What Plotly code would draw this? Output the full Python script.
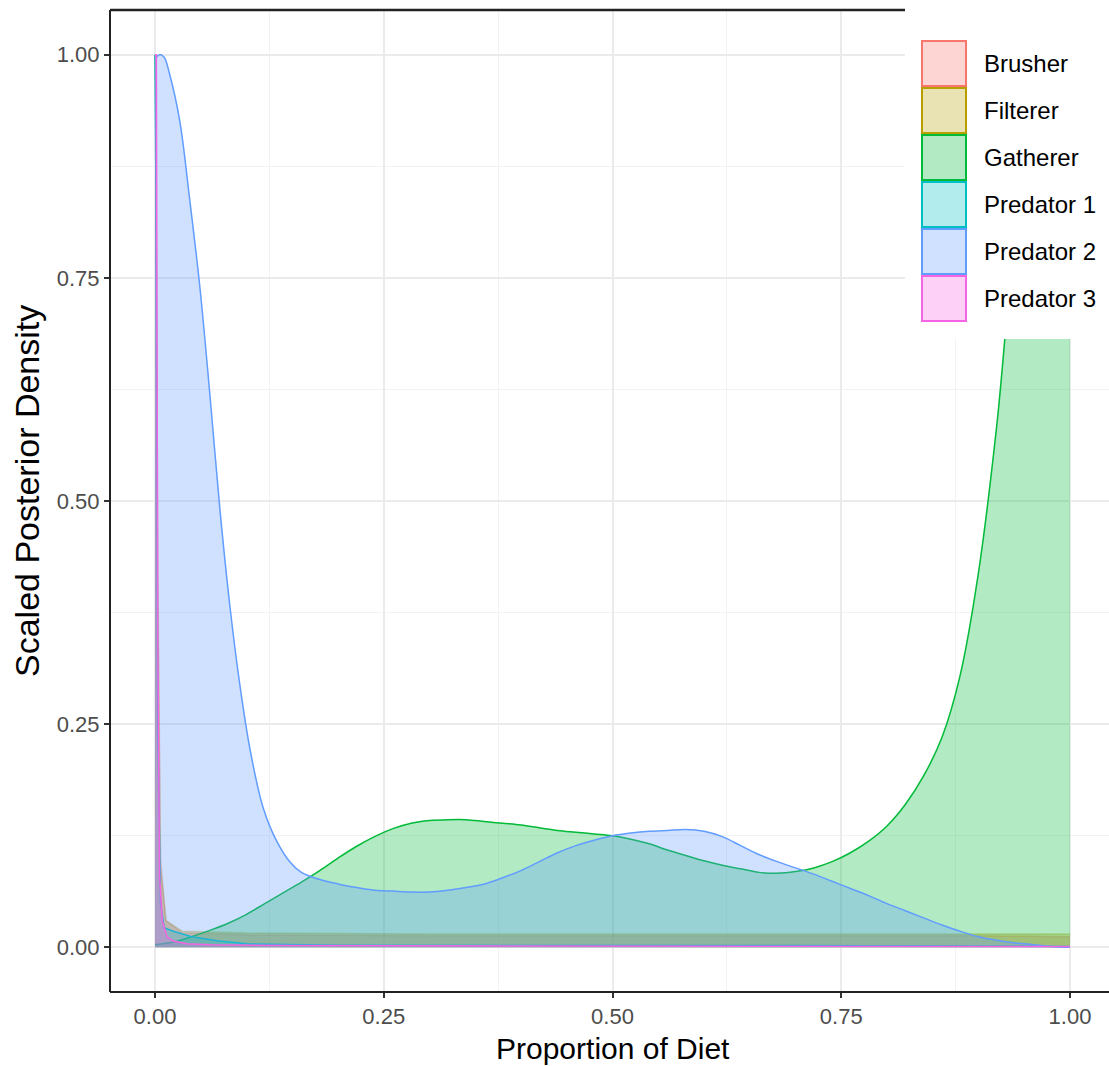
import plotly.graph_objects as go

# ---------------- data ----------------
categories = ["Brusher", "Filterer", "Gatherer", "Predator 1", "Predator 2", "Predator 3"]
colors = ["#F8766D", "#B79F00", "#00BA38", "#00BFC4", "#619CFF", "#F564E3"]

brusher_x = [0, 0.001, 0.003, 0.006, 0.012, 0.03, 0.1, 0.3, 0.5, 0.7, 0.9, 1.0]
brusher_y = [1.0, 0.95, 0.45, 0.10, 0.03, 0.016, 0.014, 0.013, 0.013, 0.013, 0.013, 0.012]

filterer_x = [0, 0.001, 0.003, 0.006, 0.012, 0.03, 0.1, 0.3, 0.5, 0.7, 0.9, 1.0]
filterer_y = [1.0, 0.90, 0.40, 0.09, 0.03, 0.018, 0.016, 0.015, 0.015, 0.015, 0.015, 0.015]

gatherer_x = [0.00, 0.02, 0.04, 0.06, 0.08, 0.10, 0.12, 0.14, 0.16, 0.18, 0.20, 0.22, 0.24,
              0.26, 0.28, 0.30, 0.32, 0.34, 0.36, 0.38, 0.40, 0.42, 0.44, 0.46, 0.48, 0.50,
              0.52, 0.54, 0.56, 0.58, 0.60, 0.62, 0.64, 0.66, 0.68, 0.70, 0.72, 0.74, 0.76,
              0.78, 0.80, 0.82, 0.84, 0.86, 0.88, 0.90, 0.92, 0.94, 0.96, 0.98, 1.00]
gatherer_y = [0.003, 0.006, 0.012, 0.019, 0.027, 0.037, 0.049, 0.061, 0.073, 0.086, 0.100,
              0.113, 0.124, 0.133, 0.139, 0.142, 0.143, 0.143, 0.141, 0.139, 0.137, 0.134,
              0.131, 0.129, 0.127, 0.125, 0.121, 0.116, 0.109, 0.103, 0.097, 0.092, 0.088,
              0.084, 0.083, 0.085, 0.089, 0.096, 0.106, 0.119, 0.136, 0.160, 0.192, 0.235,
              0.305, 0.42, 0.585, 0.80, 0.93, 0.99, 1.0]

pred1_x = [0, 0.001, 0.003, 0.006, 0.01, 0.02, 0.04, 0.07, 0.1, 0.2, 0.4, 0.7, 1.0]
pred1_y = [1.0, 0.85, 0.25, 0.05, 0.022, 0.018, 0.012, 0.007, 0.004, 0.0025, 0.002, 0.002, 0.001]

pred2_x = [0.0, 0.005, 0.01, 0.016, 0.027, 0.038, 0.049, 0.060, 0.071, 0.082, 0.093, 0.104,
           0.118, 0.133, 0.148, 0.16, 0.18, 0.20, 0.22, 0.24, 0.26, 0.28, 0.30, 0.32, 0.34,
           0.36, 0.38, 0.40, 0.42, 0.44, 0.46, 0.48, 0.50, 0.52, 0.54, 0.56, 0.58, 0.60,
           0.62, 0.64, 0.66, 0.68, 0.70, 0.72, 0.74, 0.76, 0.78, 0.80, 0.82, 0.84, 0.86,
           0.88, 0.90, 0.92, 0.94, 0.96, 0.98, 1.0]
pred2_y = [0.995, 1.0, 0.997, 0.978, 0.926, 0.837, 0.74, 0.619, 0.49, 0.381, 0.292, 0.221,
           0.157, 0.119, 0.095, 0.084, 0.076, 0.071, 0.067, 0.064, 0.063, 0.062, 0.062,
           0.064, 0.067, 0.071, 0.078, 0.086, 0.096, 0.106, 0.114, 0.120, 0.125, 0.128,
           0.130, 0.131, 0.132, 0.130, 0.124, 0.114, 0.104, 0.096, 0.089, 0.082, 0.074,
           0.066, 0.058, 0.049, 0.041, 0.033, 0.025, 0.018, 0.012, 0.008, 0.005, 0.003,
           0.001, 0.0]

pred3_x = [0, 0.0015, 0.003, 0.005, 0.008, 0.013, 0.02, 0.035, 0.06, 0.15, 0.4, 0.7, 1.0]
pred3_y = [1.0, 1.0, 0.35, 0.08, 0.03, 0.012, 0.007, 0.004, 0.003, 0.002, 0.0015, 0.0015, 0.001]

xs = [brusher_x, filterer_x, gatherer_x, pred1_x, pred2_x, pred3_x]
ys = [brusher_y, filterer_y, gatherer_y, pred1_y, pred2_y, pred3_y]
smooth = [False, False, True, False, True, False]
line_alpha = [0.35, 0.35, 1.0, 1.0, 1.0, 1.0]  # early lines sit under later fills

x_ticks = [0, 0.25, 0.5, 0.75, 1.0]
y_ticks = [0, 0.25, 0.5, 0.75, 1.0]

# ---------------- helpers ----------------
def rgba(hex_color, a):
    h = hex_color.lstrip("#")
    r, g, b = int(h[0:2], 16), int(h[2:4], 16), int(h[4:6], 16)
    return f"rgba({r},{g},{b},{a})"

W, H = 1109, 1066
L, T, B = 110, 10, 74
PW = W - L
PH = H - T - B

def px(xp):  # pixel x -> paper
    return (xp - L) / PW

def py(yp):  # pixel y -> paper
    return (H - B - yp) / PH

fig = go.Figure()
for name, col, x, y, sm, la in zip(categories, colors, xs, ys, smooth, line_alpha):
    fig.add_trace(go.Scatter(
        x=x, y=y, name=name, mode="lines",
        line=dict(color=rgba(col, la), width=1.5, shape="spline" if sm else "linear",
                  smoothing=1.0 if sm else None),
        fill="tozeroy", fillcolor=rgba(col, 0.3),
        showlegend=False, hoverinfo="skip",
    ))

font_family = "Liberation Sans, Arial, sans-serif"
axis_common = dict(
    showgrid=True, gridcolor="#EBEBEB", gridwidth=1.5,
    zeroline=False, showline=False,
    ticks="outside", ticklen=5, tickwidth=2, tickcolor="#333333",
    tickfont=dict(family=font_family, size=22, color="#4D4D4D"),
    tickformat=".2f",
)

fig.update_xaxes(range=[-45 / 915, (W - 155) / 915], tickvals=x_ticks,
                 minor=dict(tickvals=[0.125, 0.375, 0.625, 0.875], showgrid=True,
                            gridcolor="#F2F2F2", gridwidth=1, ticks=""),
                 **axis_common)
fig.update_yaxes(range=[-0.05, 1.05], tickvals=y_ticks,
                 minor=dict(tickvals=[0.125, 0.375, 0.625, 0.875], showgrid=True,
                            gridcolor="#F2F2F2", gridwidth=1, ticks=""),
                 **axis_common)

shapes = []
border = "#222222"
# panel border (left, top, bottom); right edge lies outside the picture
shapes.append(dict(type="line", xref="paper", yref="paper", x0=0, x1=0, y0=0, y1=1,
                   line=dict(color=border, width=2), layer="above"))
shapes.append(dict(type="line", xref="paper", yref="paper", x0=0, x1=1, y0=1, y1=1,
                   line=dict(color=border, width=2.5), layer="above"))
shapes.append(dict(type="line", xref="paper", yref="paper", x0=0, x1=1, y0=0, y1=0,
                   line=dict(color=border, width=2), layer="above"))
# legend background box
shapes.append(dict(type="rect", xref="paper", yref="paper",
                   x0=px(905), x1=px(W + 5), y0=py(339), y1=py(-5),
                   fillcolor="white", line=dict(width=0), layer="above"))

annotations = []
key_top0, key_step, key_h = 41, 47, 45
for i, (name, col) in enumerate(zip(categories, colors)):
    top = key_top0 + i * key_step
    shapes.append(dict(type="rect", xref="paper", yref="paper",
                       x0=px(922), x1=px(966), y0=py(top + key_h), y1=py(top),
                       fillcolor=rgba(col, 0.3), line=dict(color=col, width=2),
                       layer="above"))
    annotations.append(dict(text=name, xref="paper", yref="paper",
                            x=px(982), y=py(top + key_h / 2), xanchor="left",
                            yanchor="middle", showarrow=False,
                            font=dict(family=font_family, size=24, color="black")))

annotations.append(dict(text="Proportion of Diet", xref="paper", yref="paper",
                        x=px(613), y=py(1066), xanchor="center", yanchor="bottom",
                        showarrow=False, borderpad=0,
                        font=dict(family=font_family, size=30, color="black")))
annotations.append(dict(text="Scaled Posterior Density", xref="paper", yref="paper",
                        x=px(27), y=py(491), xanchor="center", yanchor="middle",
                        textangle=-90, showarrow=False,
                        font=dict(family=font_family, size=34, color="black")))

fig.update_layout(
    width=W, height=H,
    margin=dict(l=L, r=0, t=T, b=B, pad=0),
    paper_bgcolor="white", plot_bgcolor="white",
    showlegend=False,
    shapes=shapes, annotations=annotations,
)

fig.write_html("out.html", include_plotlyjs=True)
